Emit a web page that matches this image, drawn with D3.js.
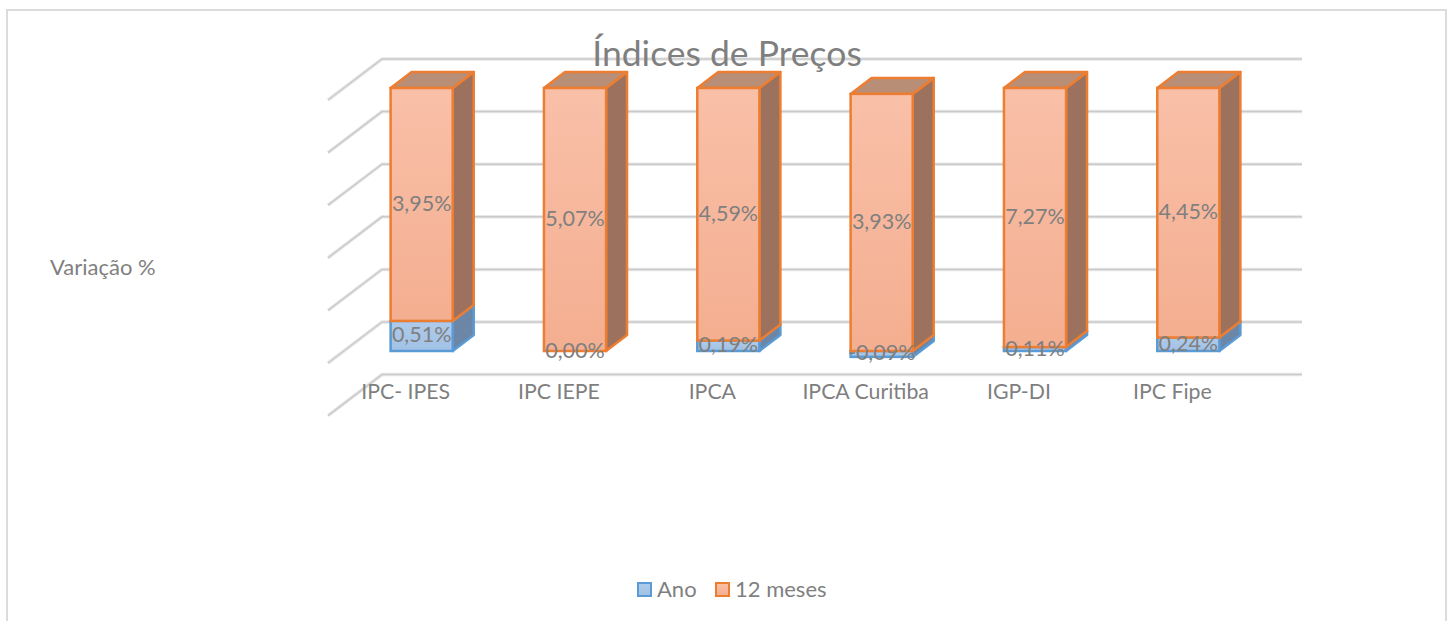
<!DOCTYPE html>
<html>
<head>
<meta charset="utf-8">
<script src="https://d3js.org/d3.v7.min.js"></script>
<style>
html, body { margin: 0; padding: 0; background: #fff; overflow: hidden; }
text { font-family: Lato, "Open Sans", sans-serif; fill: #7f7f7f; }
</style>
</head>
<body>
<div id="chart"></div>
<script>
var categories = ["IPC- IPES", "IPC IEPE", "IPCA", "IPCA Curitiba", "IGP-DI", "IPC Fipe"];
var ano = [0.51, 0.00, 0.19, -0.09, 0.11, 0.24];
var meses = [3.95, 5.07, 4.59, 3.93, 7.27, 4.45];
var ticks = [-0.2, 0, 0.2, 0.4, 0.6, 0.8, 1];
var labelFmt = function(v) { return v.toFixed(2).replace(".", ",") + "%"; };

var width = 1450, height = 621;

// floor perspective
var depthX = 54, depthY = 41;     // full depth of the grid floor
var barOffX = 17, barOffY = 12;   // front of the bars, measured from the front of the floor
var barDepthX = 21, barDepthY = 16;

var svg = d3.select("#chart").append("svg")
    .attr("width", width)
    .attr("height", height);

var defs = svg.append("defs");
function addGrad(id, top, bottom) {
    var g = defs.append("linearGradient").attr("id", id)
        .attr("x1", 0).attr("y1", 0).attr("x2", 0).attr("y2", 1);
    g.append("stop").attr("offset", "0%").attr("stop-color", top);
    g.append("stop").attr("offset", "100%").attr("stop-color", bottom);
}
addGrad("gradOrange", "#f9c0a8", "#f4ae90");
addGrad("gradBlue", "#b0cbea", "#a0c1e6");

var colors = {
    ano: { front: "url(#gradBlue)", side: "#6b86a6", top: "#7d9cc0", line: "#5b9bd5" },
    meses: { front: "url(#gradOrange)", side: "#9c725e", top: "#b98e77", line: "#ed7d31" }
};

var x = d3.scaleBand()
    .domain(categories)
    .range([328, 1248])
    .paddingInner(0.595)
    .paddingOuter(0.2975);

var y = d3.scaleLinear()
    .domain([0, 1])
    .range([351, 88]);

// chart frame, the bottom edge runs off the picture
svg.append("path")
    .attr("d", "M7,621V10H1446V621")
    .attr("fill", "none")
    .attr("stroke", "#dcdcdc")
    .attr("stroke-width", 2);

// gridlines
function gridPath(v) {
    var fy = y(v) + barOffY;
    var by = fy - depthY;
    return "M328," + fy + "L" + (328 + depthX) + "," + by + "H1302";
}
[{ w: 3.5, c: "#e8e8e8" }, { w: 1.5, c: "#cacaca" }].forEach(function(s) {
    svg.append("g").selectAll("path")
        .data(ticks)
        .enter()
        .append("path")
        .attr("d", gridPath)
        .attr("fill", "none")
        .attr("stroke", s.c)
        .attr("stroke-width", s.w);
});

// stacks, shares of the absolute total
var rows = categories.map(function(c, i) {
    var total = Math.abs(ano[i]) + Math.abs(meses[i]);
    var a = ano[i] / total, m = meses[i] / total;
    return {
        cat: c,
        segs: [
            { key: "ano", value: ano[i], y0: 0, y1: a },
            { key: "meses", value: meses[i], y0: a > 0 ? a : 0, y1: (a > 0 ? a : 0) + m }
        ]
    };
});

var bars = svg.append("g").selectAll("g")
    .data(rows)
    .enter()
    .append("g");

function drawSeg(g, seg, cat) {
    var c = colors[seg.key];
    var x0 = x(cat) + barOffX, x1 = x0 + x.bandwidth();
    var top = Math.min(y(seg.y0), y(seg.y1)), bot = Math.max(y(seg.y0), y(seg.y1));
    if (bot - top < 0.01) return;
    var dx = barDepthX, dy = barDepthY;
    g.append("polygon")
        .attr("points", [[x1, top], [x1 + dx, top - dy], [x1 + dx, bot - dy], [x1, bot]].join(" "))
        .attr("fill", c.side).attr("stroke", c.line).attr("stroke-width", 2.5).attr("stroke-linejoin", "round");
    g.append("polygon")
        .attr("points", [[x0, top], [x0 + dx, top - dy], [x1 + dx, top - dy], [x1, top]].join(" "))
        .attr("fill", c.top).attr("stroke", c.line).attr("stroke-width", 2.5).attr("stroke-linejoin", "round");
    g.append("rect")
        .attr("x", x0).attr("y", top)
        .attr("width", x.bandwidth()).attr("height", bot - top)
        .attr("fill", c.front).attr("stroke", c.line).attr("stroke-width", 2.5);
}

bars.each(function(d) {
    var g = d3.select(this);
    d.segs.forEach(function(s) { drawSeg(g, s, d.cat); });
});

// data labels
bars.each(function(d) {
    var g = d3.select(this);
    d.segs.forEach(function(s) {
        g.append("text")
            .attr("x", x(d.cat) + barOffX + x.bandwidth() / 2)
            .attr("y", (y(s.y0) + y(s.y1)) / 2 - 1)
            .attr("dy", "0.35em")
            .attr("text-anchor", "middle")
            .style("font-size", "21.5px")
            .text(labelFmt(s.value));
    });
});

// category axis
var xAxis = svg.append("g")
    .attr("transform", "translate(1,384)")
    .call(d3.axisBottom(x).tickSize(0).tickPadding(0));
xAxis.select(".domain").remove();
xAxis.selectAll("text")
    .attr("dy", "0.71em")
    .style("font-size", "21.3px")
    .style("font-family", "Lato");

svg.append("text")
    .attr("x", 50).attr("y", 267)
    .attr("dy", "0.35em")
    .style("font-size", "22px")
    .text("Variação %");

svg.append("text")
    .attr("x", 727).attr("y", 54)
    .attr("dy", "0.35em")
    .attr("text-anchor", "middle")
    .style("font-size", "35.5px")
    .text("Índices de Preços");

// legend
var legend = svg.append("g").selectAll("g")
    .data([
        { key: "ano", name: "Ano", x: 638, tx: 657 },
        { key: "meses", name: "12 meses", x: 716, tx: 735 }
    ])
    .enter()
    .append("g");
legend.append("rect")
    .attr("x", function(d) { return d.x; })
    .attr("y", 583)
    .attr("width", 13).attr("height", 13)
    .attr("fill", function(d) { return colors[d.key].front; })
    .attr("stroke", function(d) { return colors[d.key].line; })
    .attr("stroke-width", 2);
legend.append("text")
    .attr("x", function(d) { return d.tx; })
    .attr("y", 589)
    .attr("dy", "0.35em")
    .style("font-size", "22px")
    .text(function(d) { return d.name; });
</script>
</body>
</html>
